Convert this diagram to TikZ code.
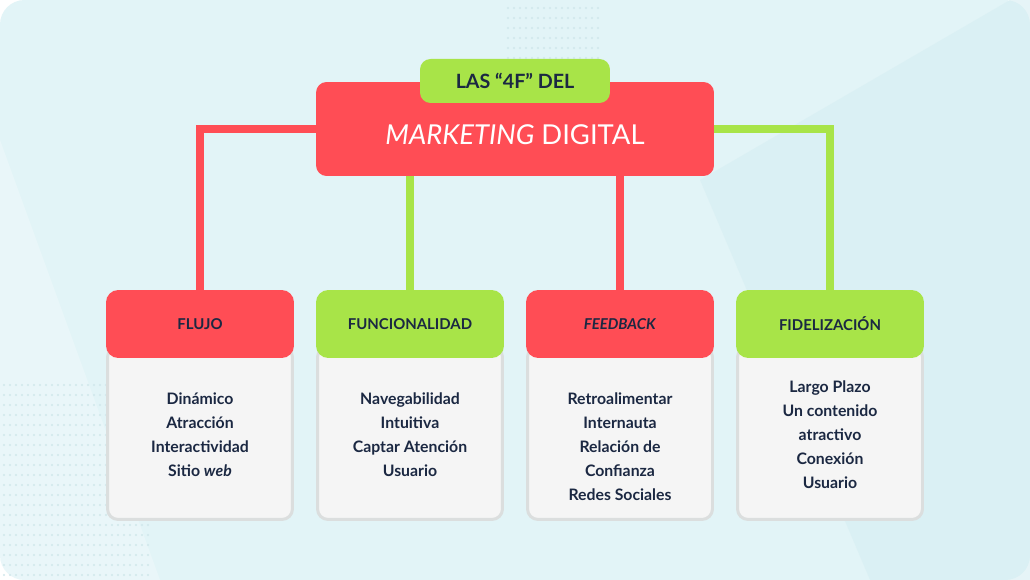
\documentclass[tikz,border=0pt]{standalone}
\usepackage{fontspec}
\setmainfont{Lato}
\usetikzlibrary{positioning,calc}
\definecolor{bgcyan}{RGB}{226,244,247}
\definecolor{bgshade}{RGB}{214,238,242}
\definecolor{dotcol}{RGB}{208,231,235}
\definecolor{mkred}{RGB}{255,77,85}
\definecolor{mkgreen}{RGB}{168,228,72}
\definecolor{navy}{RGB}{27,40,66}
\definecolor{bodygray}{RGB}{245,245,245}
\definecolor{rimgray}{RGB}{219,222,222}
\tikzset{
  mainbox/.style={
    fill=mkred,
    rounded corners=6pt,
    minimum width=7.96cm,
    minimum height=1.88cm,
    inner sep=0pt
  },
  tagbox/.style={
    fill=mkgreen,
    rounded corners=6pt,
    minimum width=3.8cm,
    minimum height=0.88cm,
    inner sep=0pt,
    text=navy,
    font=\bfseries\fontsize{11.2}{13}\selectfont
  },
  maintitle/.style={text=white, inner sep=0pt, font=\fontsize{15.6}{18}\selectfont},
  head/.style={
    rounded corners=7pt,
    minimum width=3.76cm,
    minimum height=1.36cm,
    inner sep=0pt,
    text=navy,
    font=\bfseries\fontsize{8.5}{10}\selectfont
  },
  bodybox/.style={
    draw=rimgray,
    line width=1.7pt,
    fill=bodygray,
    rounded corners=6pt,
    minimum width=3.7cm,
    minimum height=3.46cm
  },
  items/.style={align=center, inner sep=0pt, text=navy, font=\bfseries\fontsize{9}{13.65}\selectfont},
  link/.style={line width=4.55pt}
}
\newcommand{\column}[6]{
  \node[bodybox] (#1body) at (#2,433) {};
  \node[head, fill=#3] (#1) at (#2,324) {#4};
  \node[items] (#1items) at (#2,#5) {#6};
}

\begin{document}
\begin{tikzpicture}[x=0.02cm, y=-0.02cm]

  % -------------------------------------------------------------------
  % background
  % -------------------------------------------------------------------
  \fill[white] (0,0) rectangle (1030,580);
  \fill[bgcyan, rounded corners=14pt] (0,0) rectangle (1030,580);
  \fill[bgshade, opacity=0.6] (700,180) -- (1010,0) -- (1030,0) -- (1030,580) -- (870,580) -- cycle;
  \fill[white, opacity=0.25] (0,140) -- (160,580) -- (0,580) -- cycle;
  \foreach \i in {0,...,15} {
    \foreach \j in {0,...,9} {
      \fill[dotcol] (508+6*\i,8+10*\j) circle (1.1);
    }
  }
  \foreach \i in {0,...,24} {
    \foreach \j in {0,...,19} {
      \fill[dotcol] (4+6*\i,385+10*\j) circle (1.1);
    }
  }
  \useasboundingbox (0,0) rectangle (1030,580);

  % -------------------------------------------------------------------
  % title
  % -------------------------------------------------------------------
  \node[mainbox] (mkt) at (515,129) {};
  \node[maintitle] (mkttitle) at (515,135) {\textit{MARKETING} DIGITAL};
  \node[tagbox] (tag) at (515,81) {LAS “4F” DEL};

  % -------------------------------------------------------------------
  % columns
  % -------------------------------------------------------------------
  \column{flujo}{200}{mkred}{FLUJO}{435}{Dinámico\\Atracción\\Interactividad\\Sitio \textit{web}}
  \column{func}{410}{mkgreen}{FUNCIONALIDAD}{435}{Navegabilidad\\Intuitiva\\Captar Atención\\Usuario}
  \column{feed}{620}{mkred}{\textit{FEEDBACK}}{447}{Retroalimentar\\Internauta\\Relación de\\Confianza\\Redes Sociales}
  \column{fide}{830}{mkgreen}{FIDELIZACIÓN}{435}{Largo Plazo\\Un contenido\\atractivo\\Conexión\\Usuario}

  % -------------------------------------------------------------------
  % links
  % -------------------------------------------------------------------
  \draw[link, mkred] (mkt.west) -| (flujo.north);
  \draw[link, mkgreen] (mkt.south -| func.north) -- (func.north);
  \draw[link, mkred] (mkt.south -| feed.north) -- (feed.north);
  \draw[link, mkgreen] (mkt.east) -| (fide.north);

\end{tikzpicture}
\end{document}
